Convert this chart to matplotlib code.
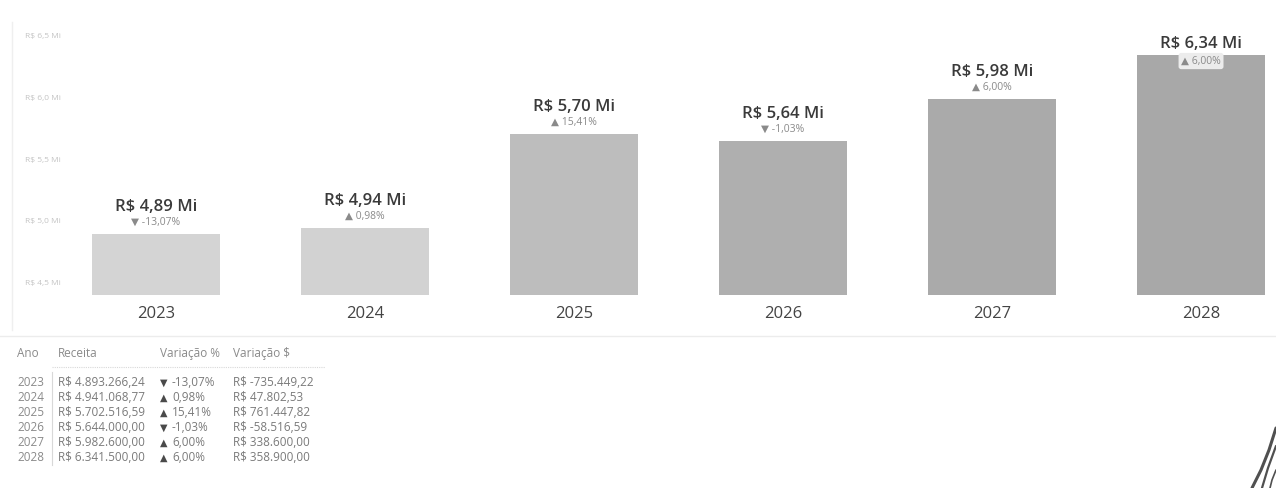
import numpy as np
import matplotlib.pyplot as plt
from matplotlib.lines import Line2D

plt.rcParams['font.family'] = ['Open Sans', 'DejaVu Sans']

# dados de receita anual
anos = ['2023', '2024', '2025', '2026', '2027', '2028']
receita = [4893266.24, 4941068.77, 5702516.59, 5644000.00, 5982600.00, 6341500.00]
var_pct = [-13.07, 0.98, 15.41, -1.03, 6.00, 6.00]
var_abs = [-735449.22, 47802.53, 761447.82, -58516.59, 338600.00, 358900.00]
cores = ['#d4d4d4', '#d2d2d2', '#bdbdbd', '#afafaf', '#aaaaaa', '#a8a8a8']
yticks = [4.5, 5.0, 5.5, 6.0, 6.5]

W, H = 1276, 488


def brl(v):
    s = f'{v:,.2f}'
    return s.replace(',', '#').replace('.', ',').replace('#', '.')


def seta(p):
    return '\u25b2' if p >= 0 else '\u25bc'


def px(x, y):
    return x / W, 1 - y / H


fig = plt.figure(figsize=(W / 100, H / 100), dpi=100)
fig.patch.set_facecolor('white')

ymin, ymax = 4.40, 6.56
escala = 123.6  # px por milhao
ax = fig.add_axes([64 / W, 1 - 295 / H, (1270 - 64) / W, (ymax - ymin) * escala / H])
ax.set_facecolor('white')

x = np.arange(len(anos))
vals = np.array(receita) / 1e6
ax.bar(x, vals, width=0.61, color=cores)
ax.set_xlim(-0.44, 5.33)
ax.set_ylim(ymin, ymax)

for s in ax.spines.values():
    s.set_visible(False)
ax.set_xticks([])
ax.set_yticks(yticks)
ax.set_yticklabels(['R$ ' + f'{t:.1f}'.replace('.', ',') + ' Mi' for t in yticks],
                   fontsize=6, color='#c4c4c4')
ax.tick_params(axis='y', length=0, pad=2)

pt = 0.72  # px -> pontos
espaco = 30 / escala
for i, v in enumerate(vals):
    rotulo = 'R$ ' + f'{v:.2f}'.replace('.', ',') + ' Mi'
    pct = seta(var_pct[i]) + ' ' + f'{var_pct[i]:.2f}'.replace('.', ',') + '%'
    if v + espaco > ymax:
        # sem espaco acima: percentual vai dentro da barra
        ax.annotate(rotulo, (i, v), xytext=(0, 11 * pt), textcoords='offset points',
                    ha='center', va='center', fontsize=12, color='#3a3a3a',
                    fontweight='semibold', annotation_clip=False)
        ax.annotate(pct, (i, v), xytext=(0, -6 * pt), textcoords='offset points',
                    ha='center', va='center', fontsize=7.5, color='#8a8a8a',
                    bbox=dict(boxstyle='round,pad=0.25', fc='#ececec', ec='none'),
                    annotation_clip=False)
    else:
        ax.annotate(rotulo, (i, v), xytext=(0, 27 * pt), textcoords='offset points',
                    ha='center', va='center', fontsize=12, color='#3a3a3a',
                    fontweight='semibold', annotation_clip=False)
        ax.annotate(pct, (i, v), xytext=(0, 12 * pt), textcoords='offset points',
                    ha='center', va='center', fontsize=7.5, color='#8a8a8a',
                    annotation_clip=False)
    ax.annotate(anos[i], (i, ymin), xytext=(0, -19 * pt), textcoords='offset points',
                ha='center', va='center', fontsize=12, color='#444444',
                annotation_clip=False)

# bordas claras do visual
fig.add_artist(Line2D([12 / W, 12 / W], [1 - 22 / H, 1 - 330 / H], color='#efefef', lw=1))
fig.add_artist(Line2D([0, 1], [1 - 336 / H, 1 - 336 / H], color='#ececec', lw=1))

# tabela
cols = [17, 58, 160, 233]
cab = ['Ano', 'Receita', 'Variação %', 'Variação $']
for cx, t in zip(cols, cab):
    fig.text(*px(cx, 357), t, fontsize=8.5, color='#8a8a8a', va='baseline', ha='left')
fig.add_artist(Line2D([52 / W, 325 / W], [1 - 367 / H, 1 - 367 / H],
                      color='#d8d8d8', lw=0.8, ls=(0, (1, 1))))
fig.add_artist(Line2D([52 / W, 52 / W], [1 - 372 / H, 1 - 465 / H], color='#d8d8d8', lw=0.8))

for i in range(len(anos)):
    y = 386 + 15 * i
    fig.text(*px(cols[0], y), anos[i], fontsize=8.5, color='#8a8a8a', va='baseline')
    fig.text(*px(cols[1], y), 'R$ ' + brl(receita[i]), fontsize=8.5, color='#7a7a7a',
             va='baseline')
    fig.text(*px(cols[2], y), seta(var_pct[i]), fontsize=7, color='#4a4a4a', va='baseline')
    fig.text(*px(cols[2] + 12, y), f'{var_pct[i]:.2f}'.replace('.', ',') + '%',
             fontsize=8.5, color='#7a7a7a', va='baseline')
    fig.text(*px(cols[3], y), 'R$ ' + brl(var_abs[i]), fontsize=8.5, color='#7a7a7a',
             va='baseline')

# marca escura no canto inferior direito
for xs, ys, lw in [([1276, 1269, 1261, 1252], [428, 450, 470, 488], 2.2),
                   ([1276, 1268, 1262], [446, 468, 488], 1.6),
                   ([1276, 1272, 1270], [470, 480, 488], 1.2)]:
    fig.add_artist(Line2D([a / W for a in xs], [1 - b / H for b in ys],
                          color='#505050', lw=lw, solid_capstyle='round'))

fig.savefig('out.png', dpi=100, facecolor='white')
